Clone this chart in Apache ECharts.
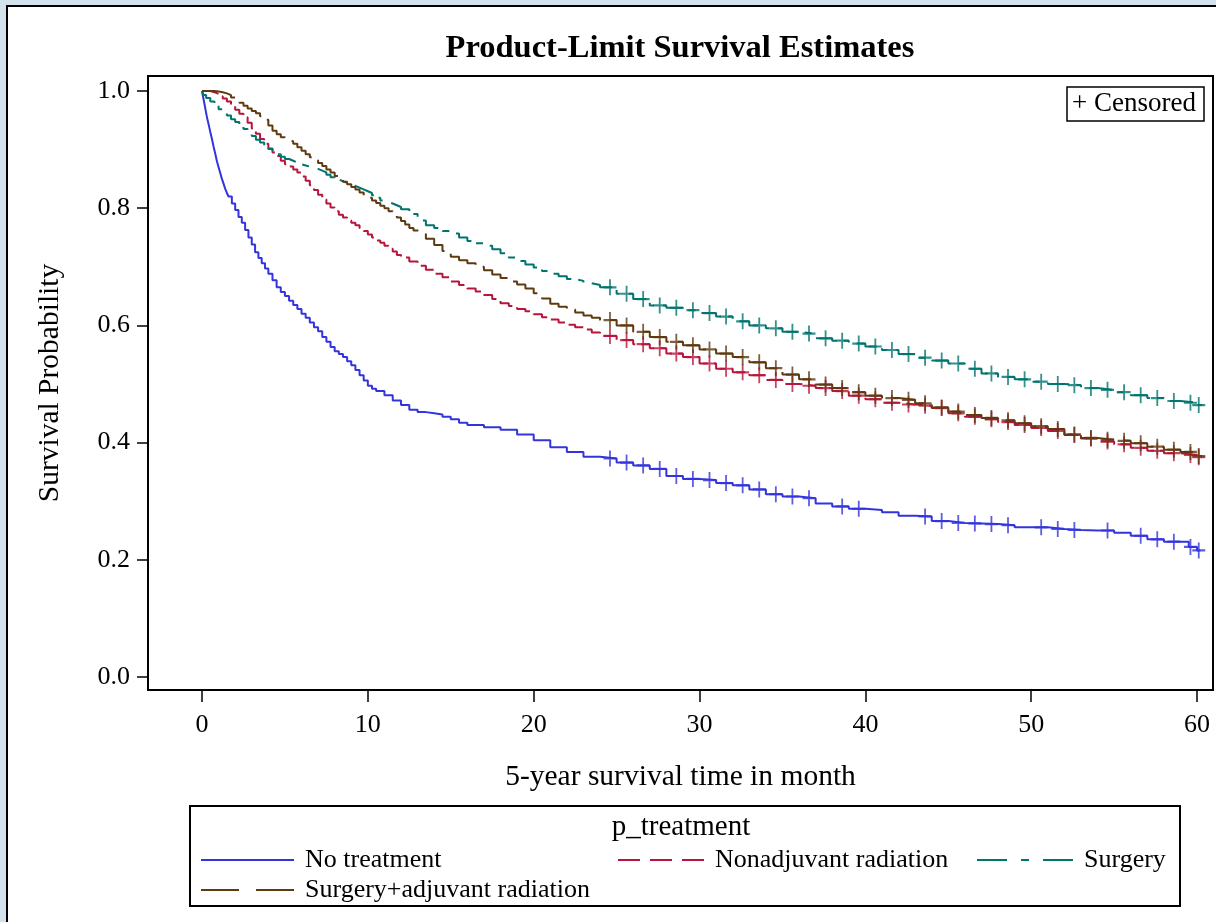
<!DOCTYPE html>
<html><head><meta charset="utf-8">
<script src="https://cdn.jsdelivr.net/npm/echarts@6/dist/echarts.min.js"></script>
<style>
html,body{margin:0;padding:0;background:#d3e1ea;overflow:hidden;width:1216px;height:922px}
#panel{position:absolute;left:6px;top:5px;width:1300px;height:1000px;background:#fff;border:2px solid #000;box-sizing:border-box}
#c{position:absolute;left:0;top:0;width:1216px;height:922px}
</style>
</head><body><div id="panel"></div><div id="c"></div>
<script>
const FONT = '"Liberation Serif","Times New Roman",serif';
const xTicks = [0, 10, 20, 30, 40, 50, 60];
const yTicks = [0, 0.2, 0.4, 0.6, 0.8, 1.0];
const groupNames = ['No treatment', 'Nonadjuvant radiation', 'Surgery', 'Surgery+adjuvant radiation'];

// [month, survival probability]
const noTreatment = [[0,1],[0.1,0.985],[0.2,0.97],[0.3,0.955],[0.4,0.943],[0.5,0.93],[0.6,0.918],[0.7,0.905],[0.8,0.893],[0.9,0.88],[1,0.87],[1.1,0.86],[1.2,0.85],[1.3,0.842],[1.4,0.833],[1.5,0.826],[1.6,0.82],[1.8,0.808],[2,0.797],[2.2,0.785],[2.4,0.775],[2.6,0.763],[2.8,0.75],[3,0.738],[3.2,0.725],[3.4,0.715],[3.6,0.706],[3.8,0.697],[4,0.688],[4.25,0.677],[4.5,0.665],[4.75,0.657],[5,0.65],[5.25,0.642],[5.5,0.635],[5.75,0.628],[6,0.62],[6.25,0.613],[6.5,0.605],[6.75,0.597],[7,0.59],[7.25,0.58],[7.5,0.572],[7.75,0.563],[8,0.556],[8.25,0.551],[8.5,0.546],[8.75,0.539],[9,0.532],[9.25,0.524],[9.5,0.515],[9.75,0.506],[10,0.497],[10.25,0.492],[10.5,0.488],[11,0.481],[11.5,0.472],[12,0.464],[12.5,0.456],[13,0.452],[13.5,0.45],[14,0.448],[14.5,0.444],[15,0.44],[15.5,0.434],[16,0.43],[17,0.426],[18,0.422],[19,0.414],[20,0.404],[21,0.392],[22,0.384],[23,0.376],[24,0.373],[25,0.366],[26,0.361],[27,0.355],[28,0.343],[29,0.338],[30,0.336],[31,0.331],[32,0.327],[33,0.32],[34,0.312],[35,0.308],[36,0.305],[37,0.296],[38,0.291],[39,0.287],[40,0.285],[41,0.281],[42,0.275],[43,0.274],[44,0.266],[45,0.263],[46,0.262],[47,0.261],[48,0.259],[49,0.2555],[50,0.2555],[51,0.2526],[52,0.251],[53,0.25],[54,0.25],[55,0.246],[56,0.241],[57,0.235],[58,0.231],[59,0.231],[59.5,0.222],[60,0.216],[60.2,0.216]];
const nonadjuvant = [[0,1],[0.5,0.998],[0.75,0.995],[1,0.991],[1.25,0.987],[1.5,0.982],[1.75,0.976],[2,0.968],[2.25,0.961],[2.5,0.955],[2.75,0.946],[3,0.936],[3.25,0.927],[3.5,0.918],[3.75,0.91],[4,0.902],[4.25,0.895],[4.5,0.889],[4.75,0.881],[5,0.875],[5.25,0.871],[5.5,0.866],[5.75,0.861],[6,0.854],[6.25,0.847],[6.5,0.839],[6.75,0.831],[7,0.823],[7.25,0.815],[7.5,0.808],[7.75,0.801],[8,0.795],[8.25,0.789],[8.5,0.784],[8.75,0.779],[9,0.775],[9.25,0.771],[9.5,0.766],[9.75,0.761],[10,0.755],[10.25,0.75],[10.5,0.745],[10.75,0.741],[11,0.736],[11.25,0.731],[11.5,0.726],[11.75,0.72],[12,0.716],[12.5,0.709],[13,0.702],[13.5,0.695],[14,0.688],[14.5,0.682],[15,0.675],[15.5,0.669],[16,0.663],[16.5,0.658],[17,0.652],[17.5,0.645],[18,0.638],[18.5,0.633],[19,0.628],[19.5,0.624],[20,0.619],[20.5,0.614],[21,0.61],[21.5,0.605],[22,0.601],[22.5,0.597],[23,0.593],[23.5,0.588],[24,0.582],[25,0.575],[26,0.568],[27,0.561],[28,0.552],[29,0.546],[30,0.535],[31,0.526],[32,0.52],[33,0.515],[34,0.507],[35,0.5],[36,0.497],[37,0.493],[38,0.488],[39,0.48],[40,0.474],[41,0.468],[42,0.465],[43,0.463],[44,0.459],[45,0.45],[46,0.444],[47,0.44],[48,0.435],[49,0.43],[50,0.425],[51,0.42],[52,0.413],[53,0.407],[54,0.402],[55,0.397],[56,0.391],[57,0.386],[58,0.382],[59,0.379],[60,0.375],[60.3,0.375]];
const surgery = [[0,1],[0.1,0.993],[0.25,0.988],[0.5,0.982],[0.75,0.976],[1,0.969],[1.25,0.963],[1.5,0.958],[1.75,0.952],[2,0.947],[2.25,0.942],[2.5,0.935],[2.75,0.929],[3,0.923],[3.25,0.917],[3.5,0.912],[3.75,0.906],[4,0.901],[4.25,0.897],[4.5,0.892],[4.75,0.888],[5,0.884],[5.25,0.881],[5.5,0.878],[5.75,0.875],[6,0.873],[6.25,0.871],[6.5,0.869],[6.75,0.867],[7,0.864],[7.25,0.861],[7.5,0.857],[7.75,0.853],[8,0.849],[8.25,0.846],[8.5,0.843],[8.75,0.841],[9,0.838],[9.25,0.835],[9.5,0.832],[9.75,0.829],[10,0.826],[10.25,0.822],[10.5,0.818],[10.75,0.813],[11,0.81],[11.25,0.808],[11.5,0.805],[11.75,0.802],[12,0.798],[12.5,0.79],[13,0.779],[13.5,0.771],[14,0.766],[14.5,0.761],[15,0.757],[15.5,0.75],[16,0.744],[16.5,0.74],[17,0.736],[17.5,0.73],[18,0.723],[18.5,0.716],[19,0.71],[19.5,0.704],[20,0.699],[20.5,0.693],[21,0.688],[21.5,0.684],[22,0.679],[22.5,0.676],[23,0.672],[23.5,0.669],[24,0.665],[25,0.654],[26,0.645],[27,0.634],[28,0.63],[29,0.626],[30,0.621],[31,0.615],[32,0.607],[33,0.6],[34,0.595],[35,0.589],[36,0.586],[37,0.578],[38,0.574],[39,0.569],[40,0.564],[41,0.558],[42,0.551],[43,0.545],[44,0.54],[45,0.535],[46,0.526],[47,0.518],[48,0.512],[49,0.508],[50,0.504],[51,0.5],[52,0.498],[53,0.493],[54,0.49],[55,0.486],[56,0.481],[57,0.476],[58,0.471],[59,0.468],[60,0.464],[60.3,0.464]];
const surgeryAdjuvant = [[0,1],[0.5,1],[0.75,0.999],[1,0.998],[1.25,0.996],[1.5,0.993],[1.75,0.989],[2,0.985],[2.25,0.98],[2.5,0.975],[2.75,0.97],[3,0.966],[3.25,0.962],[3.5,0.957],[3.75,0.951],[4,0.941],[4.25,0.932],[4.5,0.926],[4.75,0.921],[5,0.917],[5.25,0.914],[5.5,0.91],[5.75,0.904],[6,0.898],[6.25,0.892],[6.5,0.887],[6.75,0.882],[7,0.877],[7.25,0.872],[7.5,0.866],[7.75,0.861],[8,0.855],[8.25,0.85],[8.5,0.845],[8.75,0.841],[9,0.836],[9.25,0.832],[9.5,0.827],[9.75,0.822],[10,0.818],[10.25,0.813],[10.5,0.809],[10.75,0.804],[11,0.8],[11.25,0.795],[11.5,0.79],[11.75,0.784],[12,0.778],[12.25,0.772],[12.5,0.766],[12.75,0.762],[13,0.759],[13.5,0.748],[14,0.737],[14.5,0.727],[15,0.717],[15.5,0.711],[16,0.706],[16.5,0.7],[17,0.694],[17.5,0.687],[18,0.681],[18.5,0.675],[19,0.67],[19.5,0.663],[20,0.655],[20.5,0.646],[21,0.637],[21.5,0.632],[22,0.627],[22.5,0.622],[23,0.617],[23.5,0.613],[24,0.609],[25,0.6],[26,0.589],[27,0.58],[28,0.572],[29,0.566],[30,0.559],[31,0.552],[32,0.546],[33,0.537],[34,0.527],[35,0.516],[36,0.508],[37,0.499],[38,0.493],[39,0.486],[40,0.48],[41,0.476],[42,0.473],[43,0.467],[44,0.46],[45,0.453],[46,0.447],[47,0.442],[48,0.438],[49,0.433],[50,0.428],[51,0.423],[52,0.414],[53,0.408],[54,0.405],[55,0.403],[56,0.399],[57,0.393],[58,0.388],[59,0.384],[60,0.377],[60.3,0.377]];

// censoring times (months)
const censorNoTreatment = [24.6,25.6,26.6,27.6,28.6,29.6,30.6,31.6,32.6,33.6,34.6,35.6,36.6,38.6,39.6,43.6,44.6,45.6,46.6,47.6,48.6,50.6,51.6,52.6,54.6,56.6,57.6,58.6,59.6,60.1];
const censorOthers = [24.6,25.6,26.6,27.6,28.6,29.6,30.6,31.6,32.6,33.6,34.6,35.6,36.6,37.6,38.6,39.6,40.6,41.6,42.6,43.6,44.6,45.6,46.6,47.6,48.6,49.6,50.6,51.6,52.6,53.6,54.6,55.6,56.6,57.6,58.6,59.6,60.1];

const colors = ['#3434dc', '#b8153c', '#00746e', '#5e3a10'];
const dashes = ['solid', [17, 6], [23, 7, 7, 9], [36, 9]];
const legendDashes = ['solid', [22, 10], [30, 14, 8, 14], [38, 17]];
const curves = [noTreatment, nonadjuvant, surgery, surgeryAdjuvant];
const censors = [censorNoTreatment, censorOthers, censorOthers, censorOthers];

function stepValue(curve, t) {
  let v = curve[0][1];
  for (const p of curve) { if (p[0] <= t) v = p[1]; else break; }
  return v;
}

const series = [];
curves.forEach((c, i) => {
  series.push({
    type: 'line', name: groupNames[i], data: c, step: 'end', symbol: 'none',
    color: colors[i], lineStyle: { color: colors[i], width: 2, type: dashes[i] }, z: 2, silent: true
  });
});
curves.forEach((c, i) => {
  series.push({
    type: 'scatter', name: 'censor' + i,
    data: censors[i].map(t => [t, stepValue(c, t)]),
    symbol: 'path://M7,0 L7,16 M0,8 L14,8', symbolSize: [13, 16],
    itemStyle: { color: 'rgba(0,0,0,0)', borderColor: colors[i], borderWidth: 2 },
    z: 3, silent: true
  });
});

function legendFor(i, left, top, width) {
  return {
    data: [groupNames[i]], left: left, top: top,
    orient: 'horizontal', padding: 0, itemWidth: width, itemHeight: 14, itemGap: 0,
    selectedMode: false,
    itemStyle: { color: 'rgba(0,0,0,0)', opacity: 0, borderWidth: 0 },
    lineStyle: { color: colors[i], width: 2, type: legendDashes[i] },
    textStyle: { fontFamily: FONT, fontSize: 26, color: '#000', padding: [0, 0, 0, 6] }
  };
}

const chart = echarts.init(document.getElementById('c'), null, { renderer: 'canvas' });
chart.setOption({
  animation: false,
  backgroundColor: 'transparent',
  grid: { left: 148, right: 3, top: 76, bottom: 232, show: true, borderColor: '#000', borderWidth: 2, backgroundColor: '#fff' },
  xAxis: {
    type: 'value', min: -3.256, max: 60.96,
    axisLine: { show: false, onZero: false },
    axisTick: { show: true, length: 12, customValues: xTicks, lineStyle: { color: '#000', width: 1.5 } },
    axisLabel: { customValues: xTicks, margin: 22, fontFamily: FONT, fontSize: 26, color: '#000' },
    splitLine: { show: false },
    name: '5-year survival time in month', nameLocation: 'middle', nameGap: 72,
    nameTextStyle: { fontFamily: FONT, fontSize: 29.5, color: '#000' }
  },
  yAxis: {
    type: 'value', min: -0.0222, max: 1.0256,
    axisLine: { show: false, onZero: false },
    axisTick: { show: true, length: 11, customValues: yTicks, lineStyle: { color: '#000', width: 1.5 } },
    axisLabel: { customValues: yTicks, margin: 18, fontFamily: FONT, fontSize: 26, color: '#000', formatter: v => v.toFixed(1) },
    splitLine: { show: false },
    name: 'Survival Probability', nameLocation: 'middle', nameGap: 83,
    nameTextStyle: { fontFamily: FONT, fontSize: 29.5, color: '#000' }
  },
  legend: [
    legendFor(0, 200, 847, 93),
    legendFor(1, 617, 847, 86),
    legendFor(2, 976, 847, 96),
    legendFor(3, 200, 877, 93)
  ],
  graphic: [
    { type: 'text', x: 680, y: 49, style: { text: 'Product-Limit Survival Estimates', font: 'bold 32.5px ' + FONT, fill: '#000', textAlign: 'center', textVerticalAlign: 'middle' } },
    { type: 'rect', shape: { x: 1067, y: 87, width: 137, height: 34 }, style: { fill: '#fff', stroke: '#000', lineWidth: 1.5 }, z: 10 },
    { type: 'text', x: 1072, y: 104, style: { text: '+ Censored', font: '27px ' + FONT, fill: '#000', textAlign: 'left', textVerticalAlign: 'middle' }, z: 11 },
    { type: 'rect', shape: { x: 190, y: 806, width: 990, height: 100 }, style: { fill: 'none', stroke: '#000', lineWidth: 2 } },
    { type: 'text', x: 681, y: 827, style: { text: 'p_treatment', font: '29px ' + FONT, fill: '#000', textAlign: 'center', textVerticalAlign: 'middle' } }
  ],
  series: series
});
</script>
</body></html>
